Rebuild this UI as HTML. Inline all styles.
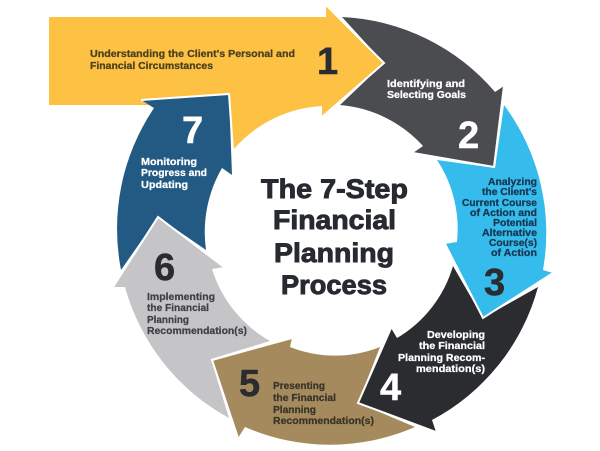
<!DOCTYPE html>
<html><head><meta charset="utf-8"><style>
html,body{margin:0;padding:0;background:#fff;width:600px;height:451px;overflow:hidden}
svg{display:block;filter:blur(.35px)}
text{font-family:"Liberation Sans",sans-serif;font-weight:bold}
.t{font-size:10px;stroke-width:.25px}
.n{font-size:38px;stroke-width:.5px}
.h{font-size:27px;fill:#272a30;stroke:#272a30;stroke-width:.9px}
</style></head><body>
<svg width="600" height="451" viewBox="0 0 600 451" xmlns="http://www.w3.org/2000/svg">
<rect width="600" height="451" fill="#fff"/>
<path fill="#fdc144" d="M49 17H326V5L384 63L322 117V106A126 126 0 0 0 233 150L228 94L141 101L150 105H49Z"/>
<path fill="#4b4c4f" d="M342 17A214 214 0 0 1 495 92L504 86L494 167L413 153L423 146A126 126 0 0 0 340 105L384 63Z"/>
<path fill="#35bbec" d="M504 105A214 214 0 0 1 543 270L553 273L483 318L445 244L457 242A125 125 0 0 0 437 160L495 168Z"/>
<path fill="#2a2c30" d="M453 266L483 318L538 287A213 213 0 0 1 432 420L436 432L358 403L391 328L397 338A124 124 0 0 0 453 266Z"/>
<path fill="#a58a5d" d="M212 360L292 338L290 347A122 122 0 0 0 380 347L358 403L415 427A213 213 0 0 1 245 427L238 438Z"/>
<path fill="#c5c5c8" d="M158 217L224 267L212 269A125 125 0 0 0 270 341L211 359L229 418A214 214 0 0 1 125 287L113 287Z"/>
<path fill="#235a83" d="M141 100L154 108A216 216 0 0 0 121 270L158 217L206 250A128 128 0 0 1 222 168L232 175L229 94Z"/>
<g fill="none" stroke="#fff" stroke-width="2">
<path d="M141 100L229 94L233 150"/>
<path d="M326 5L384 63L322 117"/>
<path d="M504 86L494 167L413 153"/>
<path d="M445 244L483 318L553 273"/>
<path d="M391 328L358 403L436 432"/>
<path d="M292 338L212 360L238 438"/>
<path d="M113 287L158 217L224 267"/>
</g>
<g class="h" text-anchor="start">
<text class="h" x="261" y="198" textLength="147" lengthAdjust="spacingAndGlyphs">The 7-Step</text>
<text class="h" x="273" y="229" textLength="123" lengthAdjust="spacingAndGlyphs">Financial</text>
<text class="h" x="274" y="262" textLength="120" lengthAdjust="spacingAndGlyphs">Planning</text>
<text class="h" x="281" y="294" textLength="106" lengthAdjust="spacingAndGlyphs">Process</text>
</g>
<g fill="#2a2c30" stroke="#2a2c30">
<text class="n" x="317" y="74">1</text>
<text class="n" x="239" y="396">5</text>
<text class="n" x="154" y="280">6</text>
<text class="n" x="484" y="295">3</text>
</g>
<g fill="#fff" stroke="#fff">
<text class="n" x="182" y="143">7</text>
<text class="n" x="458" y="148">2</text>
<text class="n" x="380" y="400">4</text>
</g>
<g fill="#4a3f1f" stroke="#4a3f1f">
<text class="t" x="90" y="57" textLength="205" lengthAdjust="spacingAndGlyphs">Understanding the Client's Personal and</text>
<text class="t" x="90" y="69" textLength="123" lengthAdjust="spacingAndGlyphs">Financial Circumstances</text>
</g>
<g fill="#fff" stroke="#fff">
<text class="t" x="387" y="87" textLength="78" lengthAdjust="spacingAndGlyphs">Identifying and</text>
<text class="t" x="387" y="98" textLength="79" lengthAdjust="spacingAndGlyphs">Selecting Goals</text>
<text class="t" x="141" y="165" textLength="56" lengthAdjust="spacingAndGlyphs">Monitoring</text>
<text class="t" x="141" y="176" textLength="66" lengthAdjust="spacingAndGlyphs">Progress and</text>
<text class="t" x="141" y="188" textLength="47" lengthAdjust="spacingAndGlyphs">Updating</text>
<text class="t" x="427" y="338" textLength="58" lengthAdjust="spacingAndGlyphs">Developing</text>
<text class="t" x="419" y="349" textLength="66" lengthAdjust="spacingAndGlyphs">the Financial</text>
<text class="t" x="398" y="361" textLength="87" lengthAdjust="spacingAndGlyphs">Planning Recom-</text>
<text class="t" x="416" y="372" textLength="69" lengthAdjust="spacingAndGlyphs">mendation(s)</text>
</g>
<g fill="#17364f" stroke="#17364f">
<text class="t" x="488" y="185" textLength="49" lengthAdjust="spacingAndGlyphs">Analyzing</text>
<text class="t" x="482" y="195" textLength="55" lengthAdjust="spacingAndGlyphs">the Client's</text>
<text class="t" x="462" y="206" textLength="75" lengthAdjust="spacingAndGlyphs">Current Course</text>
<text class="t" x="470" y="216" textLength="67" lengthAdjust="spacingAndGlyphs">of Action and</text>
<text class="t" x="493" y="226" textLength="44" lengthAdjust="spacingAndGlyphs">Potential</text>
<text class="t" x="482" y="236" textLength="55" lengthAdjust="spacingAndGlyphs">Alternative</text>
<text class="t" x="489" y="246" textLength="48" lengthAdjust="spacingAndGlyphs">Course(s)</text>
<text class="t" x="491" y="256" textLength="46" lengthAdjust="spacingAndGlyphs">of Action</text>
</g>
<g fill="#3f4145" stroke="#3f4145">
<text class="t" x="147" y="300" textLength="68" lengthAdjust="spacingAndGlyphs">Implementing</text>
<text class="t" x="147" y="311" textLength="62" lengthAdjust="spacingAndGlyphs">the Financial</text>
<text class="t" x="147" y="323" textLength="42" lengthAdjust="spacingAndGlyphs">Planning</text>
<text class="t" x="147" y="334" textLength="100" lengthAdjust="spacingAndGlyphs">Recommendation(s)</text>
</g>
<g fill="#3a3428" stroke="#3a3428">
<text class="t" x="273" y="389" textLength="52" lengthAdjust="spacingAndGlyphs">Presenting</text>
<text class="t" x="273" y="401" textLength="63" lengthAdjust="spacingAndGlyphs">the Financial</text>
<text class="t" x="273" y="413" textLength="43" lengthAdjust="spacingAndGlyphs">Planning</text>
<text class="t" x="273" y="424" textLength="101" lengthAdjust="spacingAndGlyphs">Recommendation(s)</text>
</g>
</svg>
</body></html>
